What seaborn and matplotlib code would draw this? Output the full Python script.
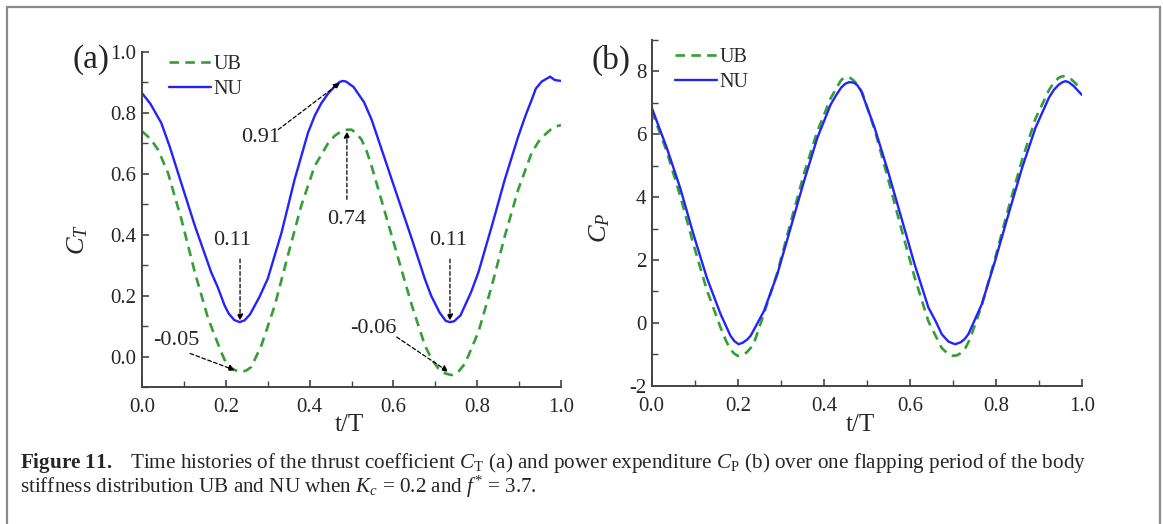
import numpy as np
import pandas as pd
import matplotlib
matplotlib.use("Agg")
import matplotlib.pyplot as plt
import seaborn as sns
from matplotlib.ticker import MultipleLocator, FormatStrFormatter
from matplotlib.patches import Rectangle

# ---------------- data ----------------
t_ct_nu = [0.0, 0.02, 0.046, 0.066, 0.086, 0.126, 0.165, 0.181, 0.197, 0.207, 0.22, 0.233,
           0.245, 0.258, 0.28, 0.30, 0.333, 0.364, 0.396, 0.412, 0.428, 0.445, 0.46, 0.47,
           0.478, 0.487, 0.505, 0.53, 0.548, 0.580, 0.612, 0.644, 0.675, 0.69, 0.71, 0.725,
           0.735, 0.745, 0.76, 0.785, 0.803, 0.835, 0.866, 0.898, 0.915, 0.930, 0.94, 0.954,
           0.974, 0.985, 1.0]
ct_nu = [0.865, 0.83, 0.767, 0.69, 0.603, 0.43, 0.277, 0.227, 0.168, 0.141, 0.120, 0.113,
         0.119, 0.139, 0.195, 0.255, 0.407, 0.58, 0.734, 0.79, 0.832, 0.865, 0.887, 0.90,
         0.905, 0.903, 0.885, 0.835, 0.778, 0.647, 0.516, 0.386, 0.255, 0.20, 0.145, 0.117,
         0.113, 0.116, 0.135, 0.21, 0.277, 0.429, 0.582, 0.723, 0.79, 0.843, 0.88, 0.903,
         0.919, 0.908, 0.905]

t_ct_ub = [0.0, 0.02, 0.038, 0.062, 0.094, 0.126, 0.158, 0.189, 0.20, 0.213, 0.225, 0.237,
           0.249, 0.261, 0.285, 0.317, 0.348, 0.380, 0.412, 0.444, 0.46, 0.476, 0.49, 0.50,
           0.512, 0.524, 0.536, 0.548, 0.580, 0.612, 0.644, 0.675, 0.69, 0.707, 0.723, 0.739,
           0.755, 0.771, 0.803, 0.835, 0.866, 0.898, 0.930, 0.946, 0.962, 0.975, 0.989, 1.0]
ct_ub = [0.74, 0.715, 0.68, 0.603, 0.451, 0.277, 0.124, 0.015, -0.02, -0.039, -0.046, -0.05,
         -0.046, -0.034, 0.037, 0.168, 0.331, 0.495, 0.625, 0.70, 0.725, 0.74, 0.745, 0.745,
         0.733, 0.712, 0.675, 0.625, 0.473, 0.32, 0.168, 0.037, -0.005, -0.039, -0.055, -0.061,
         -0.05, -0.023, 0.081, 0.233, 0.396, 0.549, 0.669, 0.705, 0.729, 0.745, 0.756, 0.76]

t_cp_nu = [0.0, 0.035, 0.066, 0.097, 0.128, 0.160, 0.172, 0.183, 0.192, 0.202, 0.212, 0.222,
           0.230, 0.245, 0.261, 0.292, 0.323, 0.354, 0.385, 0.416, 0.428, 0.44, 0.45, 0.459,
           0.47, 0.478, 0.487, 0.518, 0.549, 0.580, 0.611, 0.643, 0.66, 0.674, 0.690, 0.705,
           0.718, 0.727, 0.736, 0.75, 0.767, 0.798, 0.829, 0.861, 0.892, 0.923, 0.935, 0.946,
           0.955, 0.962, 0.97, 0.981, 1.0]
cp_nu = [6.85, 5.57, 4.30, 2.82, 1.44, 0.28, -0.08, -0.41, -0.58, -0.68, -0.63, -0.53,
         -0.41, -0.03, 0.38, 1.55, 3.03, 4.51, 5.89, 6.95, 7.23, 7.48, 7.61, 7.66,
         7.64, 7.56, 7.37, 6.21, 4.83, 3.35, 1.86, 0.49, 0.05, -0.36, -0.60, -0.68,
         -0.62, -0.52, -0.36, 0.07, 0.59, 1.97, 3.45, 4.94, 6.21, 7.16, 7.42, 7.58,
         7.66, 7.69, 7.65, 7.53, 7.25]

t_cp_ub = [0.0, 0.035, 0.066, 0.097, 0.128, 0.160, 0.172, 0.183, 0.192, 0.200, 0.210, 0.220,
           0.230, 0.240, 0.261, 0.292, 0.323, 0.354, 0.385, 0.416, 0.44, 0.447, 0.455, 0.462,
           0.47, 0.48, 0.49, 0.518, 0.549, 0.580, 0.611, 0.643, 0.66, 0.674, 0.688, 0.700,
           0.710, 0.720, 0.730, 0.740, 0.767, 0.798, 0.829, 0.861, 0.892, 0.923, 0.935, 0.946,
           0.955, 0.965, 0.975, 0.985, 0.995]
cp_ub = [6.75, 5.45, 4.05, 2.5, 1.05, -0.15, -0.55, -0.85, -0.98, -1.05, -1.03, -0.95,
         -0.8, -0.55, 0.3, 1.6, 3.2, 4.75, 6.1, 7.15, 7.72, 7.8, 7.82, 7.79,
         7.7, 7.55, 7.3, 6.15, 4.6, 3.0, 1.45, 0.05, -0.42, -0.8, -0.98, -1.05,
         -1.03, -0.95, -0.78, -0.5, 0.55, 2.05, 3.65, 5.2, 6.5, 7.4, 7.65, 7.8,
         7.85, 7.82, 7.75, 7.62, 7.45]

series_names = ["UB", "NU"]
panel_labels = ["(a)", "(b)"]
xlabel_text = "t/T"
ylabels = [r"$C_T$", r"$C_P$"]

# annotations: (text, text_xy, arrow_start, arrow_end)
ann_a = [
    ("0.91", (0.283, 0.72), (0.325, 0.745), (0.4726, 0.899)),
    ("0.74", (0.489, 0.45), (0.489, 0.516), (0.489, 0.739)),
    ("0.11", (0.215, 0.38), (0.234, 0.32), (0.234, 0.118)),
    ("0.11", (0.730, 0.38), (0.735, 0.32), (0.735, 0.118)),
    ("-0.05", (0.083, 0.053), (0.115, 0.01), (0.222, -0.045)),
    ("-0.06", (0.552, 0.092), (0.608, 0.064), (0.731, -0.05)),
]

caption1 = (r"$\mathbf{Figure\ 11.}$   Time histories of the thrust coefficient $C_{\mathrm{T}}$ (a) "
            r"and power expenditure $C_{\mathrm{P}}$ (b) over one flapping period of the body")
caption2 = r"stiffness distribution UB and NU when $K_c$ = 0.2 and $f^{*}$ = 3.7."

# ---------------- style ----------------
sns.set_theme(style="ticks")
plt.rcParams["font.family"] = ["Liberation Serif", "DejaVu Serif"]
plt.rcParams["mathtext.fontset"] = "custom"
plt.rcParams["mathtext.rm"] = "Liberation Serif"
plt.rcParams["mathtext.it"] = "Liberation Serif:italic"
plt.rcParams["mathtext.bf"] = "Liberation Serif:bold"

GREEN = "#33a033"
BLUE = "#2323ff"
SPINE = "#444444"

fig = plt.figure(figsize=(11.63, 5.24), dpi=100)
W, H = 1163, 524

def ax_rect(x0, x1, ytop, ybot):
    return [x0 / W, 1 - ybot / H, (x1 - x0) / W, (ybot - ytop) / H]

axA = fig.add_axes(ax_rect(142, 561, 52, 387))
axB = fig.add_axes(ax_rect(651.7, 1082, 40, 385.7))

dash = (0, (3.6, 2.4))

for ax, (tu, vu, tn, vn) in zip(
        [axA, axB],
        [(t_ct_ub, ct_ub, t_ct_nu, ct_nu), (t_cp_ub, cp_ub, t_cp_nu, cp_nu)]):
    sns.lineplot(x=tu, y=vu, ax=ax, color=GREEN, linestyle=dash, lw=1.9,
                 sort=False, estimator=None, label=series_names[0])
    sns.lineplot(x=tn, y=vn, ax=ax, color=BLUE, lw=1.7,
                 sort=False, estimator=None, label=series_names[1])
    ax.set_xlim(0, 1.0)
    for s in ["top", "right"]:
        ax.spines[s].set_visible(False)
    for s in ["left", "bottom"]:
        ax.spines[s].set_color(SPINE)
        ax.spines[s].set_linewidth(1.4)
    ax.xaxis.set_major_locator(MultipleLocator(0.2))
    ax.xaxis.set_minor_locator(MultipleLocator(0.1))
    ax.xaxis.set_major_formatter(FormatStrFormatter("%.1f"))
    ax.tick_params(which="major", direction="in", length=5, width=1.2, color=SPINE,
                   labelsize=15, pad=4)
    ax.tick_params(axis="x", which="major", pad=8)
    ax.tick_params(which="minor", direction="in", length=4, width=1.0, color=SPINE)
    ax.set_xlabel(xlabel_text, fontsize=18)
    ax.set_facecolor("white")
    ax.legend(loc="upper left", frameon=False, fontsize=14.5,
              handlelength=2.1, handletextpad=0.12, labelspacing=0.3,
              borderaxespad=0.0)

axA.set_ylim(-0.1, 1.0)
axA.yaxis.set_major_locator(MultipleLocator(0.2))
axA.yaxis.set_minor_locator(MultipleLocator(0.1))
axA.yaxis.set_major_formatter(FormatStrFormatter("%.1f"))
axA.legend_.set_bbox_to_anchor((0.045, 1.015))

axB.set_ylim(-2, 9)
axB.yaxis.set_major_locator(MultipleLocator(2))
axB.yaxis.set_minor_locator(MultipleLocator(1))
axB.yaxis.set_major_formatter(FormatStrFormatter("%d"))
axB.legend_.set_bbox_to_anchor((0.035, 1.0))

axA.set_ylabel(ylabels[0], fontsize=19)
axB.set_ylabel(ylabels[1], fontsize=19)
axA.yaxis.set_label_coords(-0.125, 0.44)
axB.yaxis.set_label_coords(-0.093, 0.456)
axA.xaxis.set_label_coords(0.496, -0.081)
axB.xaxis.set_label_coords(0.484, -0.082)

# panel labels
fig.text(91 / W, 1 - 60 / H, panel_labels[0], fontsize=24, ha="center", va="center")
fig.text(611 / W, 1 - 60 / H, panel_labels[1], fontsize=24, ha="center", va="center")

# annotations
for txt, txy, a0, a1 in ann_a:
    axA.text(txy[0], txy[1], txt, fontsize=16, ha="center", va="center")
    axA.annotate("", xy=a1, xytext=a0,
                 arrowprops=dict(arrowstyle="-|>", linestyle=(0, (3, 2)), lw=0.9,
                                 color="black", mutation_scale=9,
                                 shrinkA=0, shrinkB=0))

# caption
fig.text(20 / W, 1 - 463 / H, caption1, fontsize=15.2, ha="left", va="center")
fig.text(20 / W, 1 - 487 / H, caption2, fontsize=15.2, ha="left", va="center")

# outer frame
fig.add_artist(Rectangle((7 / W, -0.05), (1160 - 7) / W, (1 + 0.05) - 7 / H,
                         transform=fig.transFigure, fill=False, edgecolor="#8a8a8a", lw=1.6))

fig.savefig("out.png", dpi=100, facecolor="white")
